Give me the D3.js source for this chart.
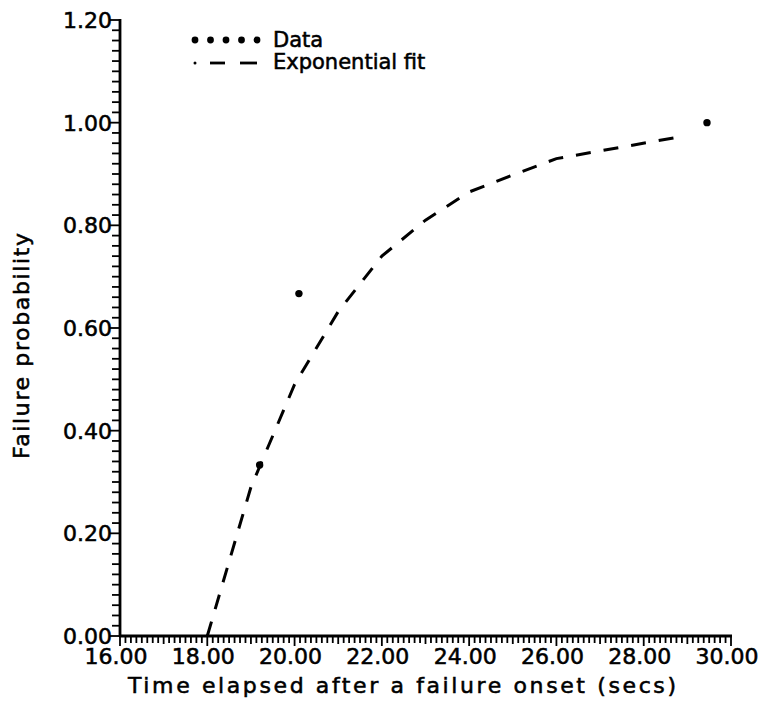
<!DOCTYPE html>
<html>
<head>
<meta charset="utf-8">
<script src="https://cdn.jsdelivr.net/npm/d3@7"></script>
<style>
  html, body { margin: 0; padding: 0; background: #fff; }
  svg { display: block; }
  text { font-family: "DejaVu Sans", sans-serif; fill: #000; stroke: #000; stroke-width: 0.55px; }
</style>
</head>
<body>
<svg id="chart" width="760" height="705"></svg>
<script>
// ---- data ----
const xDomain = [16, 30];
const yDomain = [0, 1.2];
const xMajorTicks = [16, 18, 20, 22, 24, 26, 28, 30];
const yMajorTicks = [0, 0.2, 0.4, 0.6, 0.8, 1.0, 1.2];
const dataTime = [19.2, 20.1, 29.45];
const dataProb = [0.333, 0.667, 1.0];
const fitTime = [18, 19, 20, 21, 22, 23, 24, 25, 26, 28.8];
const fitProb = [0.0, 0.29, 0.49, 0.632, 0.74, 0.81, 0.865, 0.898, 0.93, 0.972];
const legendLabels = ["Data", "Exponential fit"];
const xTitle = "Time elapsed after a failure onset (secs)";
const yTitle = "Failure probability";

// ---- layout ----
const svg = d3.select("#chart");
const x = d3.scaleLinear().domain(xDomain).range([120, 731]);
const y = d3.scaleLinear().domain(yDomain).range([636, 20]);
const fmt = d3.format(".2f");

// minor ticks
const xMinor = d3.range(xDomain[0], xDomain[1] + 1e-9, 0.125);
const yMinor = d3.range(yDomain[0], yDomain[1] + 1e-9, 0.02);
const isMajor = (v, step) => Math.abs(v / step - Math.round(v / step)) < 1e-6;

const axes = svg.append("g").attr("stroke", "#000").attr("fill", "none");
// axis lines
axes.append("line").attr("x1", x(xDomain[0]) - 1).attr("x2", x(xDomain[1]) + 1)
  .attr("y1", y(0)).attr("y2", y(0)).attr("stroke-width", 2.8);
axes.append("line").attr("x1", x(xDomain[0])).attr("x2", x(xDomain[0]))
  .attr("y1", y(yDomain[1]) - 1).attr("y2", y(0) + 1).attr("stroke-width", 2.8);

// x ticks (downward)
axes.selectAll("line.xt").data(xMinor).join("line").attr("class", "xt")
  .attr("x1", d => x(d)).attr("x2", d => x(d))
  .attr("y1", y(0)).attr("y2", d => y(0) + (isMajor(d, 2) ? 10 : (isMajor(d, 1) ? 8 : 7)))
  .attr("stroke-width", 1.8);
// y ticks (leftward)
axes.selectAll("line.yt").data(yMinor).join("line").attr("class", "yt")
  .attr("y1", d => y(d)).attr("y2", d => y(d))
  .attr("x1", x(xDomain[0])).attr("x2", d => x(xDomain[0]) - (isMajor(d, 0.2) ? 11 : 8))
  .attr("stroke-width", 1.8);

// tick labels
svg.selectAll("text.xl").data(xMajorTicks).join("text").attr("class", "xl")
  .attr("x", d => x(d) - 4).attr("y", 664)
  .attr("text-anchor", "middle").attr("font-size", 22)
  .text(d => fmt(d));
svg.selectAll("text.yl").data(yMajorTicks).join("text").attr("class", "yl")
  .attr("x", 112).attr("y", d => y(d)).attr("dy", "0.36em")
  .attr("text-anchor", "end").attr("font-size", 22)
  .text(d => fmt(d));

// axis titles
svg.append("text").attr("x", 402).attr("y", 693)
  .attr("text-anchor", "middle").attr("font-size", 22)
  .attr("textLength", 548).attr("lengthAdjust", "spacing")
  .text(xTitle);
svg.append("text").attr("transform", "translate(29,346) rotate(-90)")
  .attr("text-anchor", "middle").attr("font-size", 22)
  .attr("textLength", 226).attr("lengthAdjust", "spacing")
  .text(yTitle);

// fit line
const fitPts = fitTime.map((t, i) => [t, fitProb[i]]);
svg.append("path").datum(fitPts)
  .attr("d", d3.line().x(d => x(d[0])).y(d => y(d[1])))
  .attr("fill", "none").attr("stroke", "#000").attr("stroke-width", 3)
  .attr("stroke-dasharray", "15,13");

// data points
const dataPts = dataTime.map((t, i) => [t, dataProb[i]]);
svg.selectAll("circle.pt").data(dataPts).join("circle").attr("class", "pt")
  .attr("cx", d => x(d[0])).attr("cy", d => y(d[1])).attr("r", 3.7)
  .attr("fill", "#000");

// legend
const lg = svg.append("g");
const legendDots = d3.range(5);
lg.selectAll("circle").data(legendDots).join("circle")
  .attr("cx", d => 195 + d * 15.5).attr("cy", 40).attr("r", 3.4).attr("fill", "#000");
lg.append("circle").attr("cx", 195).attr("cy", 63).attr("r", 1.5).attr("fill", "#000");
lg.append("line").attr("x1", 210).attr("x2", 225).attr("y1", 63).attr("y2", 63)
  .attr("stroke", "#000").attr("stroke-width", 2.8);
lg.append("line").attr("x1", 240).attr("x2", 257).attr("y1", 63).attr("y2", 63)
  .attr("stroke", "#000").attr("stroke-width", 2.8);
lg.selectAll("text").data(legendLabels).join("text")
  .attr("x", 273).attr("y", (d, i) => 47 + i * 22).attr("font-size", 21)
  .text(d => d);
</script>
</body>
</html>
